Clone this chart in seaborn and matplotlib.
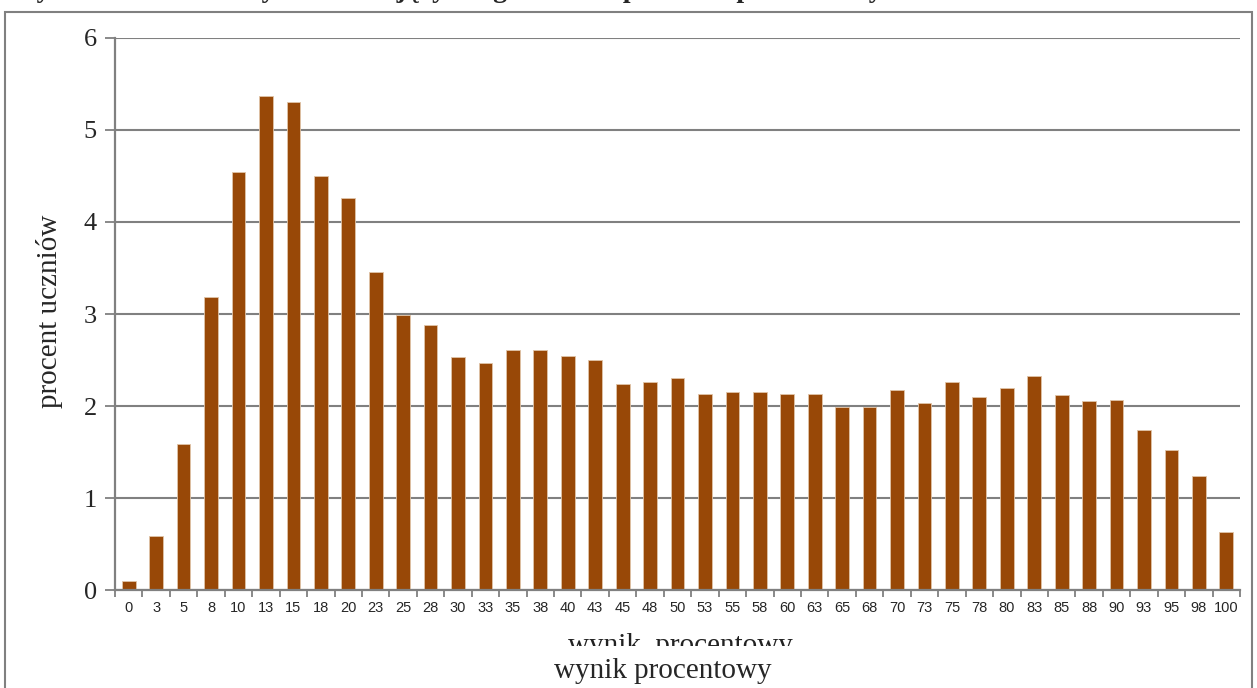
import numpy as np
import pandas as pd
import matplotlib
matplotlib.use("Agg")
import matplotlib.pyplot as plt
import seaborn as sns
from matplotlib.patches import Rectangle

# Data
wyniki = ['0', '3', '5', '8', '10', '13', '15', '18', '20', '23', '25', '28', '30', '33',
          '35', '38', '40', '43', '45', '48', '50', '53', '55', '58', '60', '63', '65', '68',
          '70', '73', '75', '78', '80', '83', '85', '88', '90', '93', '95', '98', '100']
procent = [0.10, 0.59, 1.59, 3.18, 4.54, 5.37, 5.30, 4.50, 4.26, 3.46, 2.99, 2.88, 2.53, 2.47,
           2.61, 2.61, 2.54, 2.50, 2.24, 2.26, 2.30, 2.13, 2.15, 2.15, 2.13, 2.13, 1.99, 1.99,
           2.17, 2.03, 2.26, 2.10, 2.20, 2.33, 2.12, 2.05, 2.07, 1.74, 1.52, 1.24, 0.63]
y_ticks = [0, 1, 2, 3, 4, 5, 6]

df = pd.DataFrame({'wynik': wyniki, 'procent': procent})

sns.set_theme(style='white')
serif = ['Liberation Serif', 'DejaVu Serif']
sans = ['Liberation Sans', 'DejaVu Sans']
grey = '#808080'

fig = plt.figure(figsize=(12.57, 6.88), dpi=100)
ax = fig.add_axes([0.0915, 0.1424, 0.895, 0.8024])

sns.barplot(data=df, x='wynik', y='procent', color='#984807', saturation=1,
            width=0.5, edgecolor='#e0c4a8', linewidth=0.6, ax=ax)

ax.set_ylim(0, 6)
ax.set_xlim(-0.5, len(wyniki) - 0.5)
ax.set_yticks(y_ticks)
ax.set_yticklabels([str(t) for t in y_ticks], fontfamily=serif, fontsize=19)
ax.yaxis.grid(True, color=grey, linewidth=1.5)
ax.set_axisbelow(True)

# category ticks sit between the bars, labels under the bars
ax.set_xticks(np.arange(len(wyniki)))
ax.set_xticklabels(wyniki, fontfamily=sans, fontsize=10.5)
ax.set_xticks(np.arange(len(wyniki) + 1) - 0.5, minor=True)
ax.tick_params(axis='x', which='major', length=0, pad=8)
ax.tick_params(axis='x', which='minor', length=5, color=grey, width=1.3, direction='out', bottom=True)
ax.tick_params(axis='y', length=7, color=grey, width=1.3, direction='out', left=True, pad=6)

for side in ['top', 'right']:
    ax.spines[side].set_visible(False)
for side in ['left', 'bottom']:
    ax.spines[side].set_color(grey)
    ax.spines[side].set_linewidth(1.6)

ax.set_xlabel('')
ax.set_ylabel('procent uczniów', fontfamily=serif, fontsize=21, labelpad=2)
ax.yaxis.set_label_coords(-0.046, 0.505)

# clipped inner axis title and the outer one
fig.text(0.541, 1 - 646 / 688, 'wynik  procentowy', fontfamily=serif, fontsize=21,
         ha='center', va='center', color='#222222')
fig.patches.append(Rectangle((0.3, 1 - 665 / 688), 0.5, 19 / 688, transform=fig.transFigure,
                             facecolor='white', edgecolor='none', zorder=5))
fig.text(0.527, 1 - 671 / 688, 'wynik procentowy', fontfamily=serif, fontsize=21,
         ha='center', va='center', zorder=6)

# outer frame, bottom edge outside the picture
fig.patches.append(Rectangle((5 / 1257, -0.05), 1247 / 1257, 1.05 - 12 / 688,
                             transform=fig.transFigure, fill=False, edgecolor=grey,
                             linewidth=1.5, zorder=7))

# title sits above the picture, only descenders are visible
fig.text(10 / 1257, 1 + 3 / 688, 'Wykres 1. Rozkład wyników zdających egzamin na poziomie podstawowym',
         fontfamily=serif, fontsize=20, fontweight='bold', ha='left', va='baseline')

fig.savefig('out.png', dpi=100)
